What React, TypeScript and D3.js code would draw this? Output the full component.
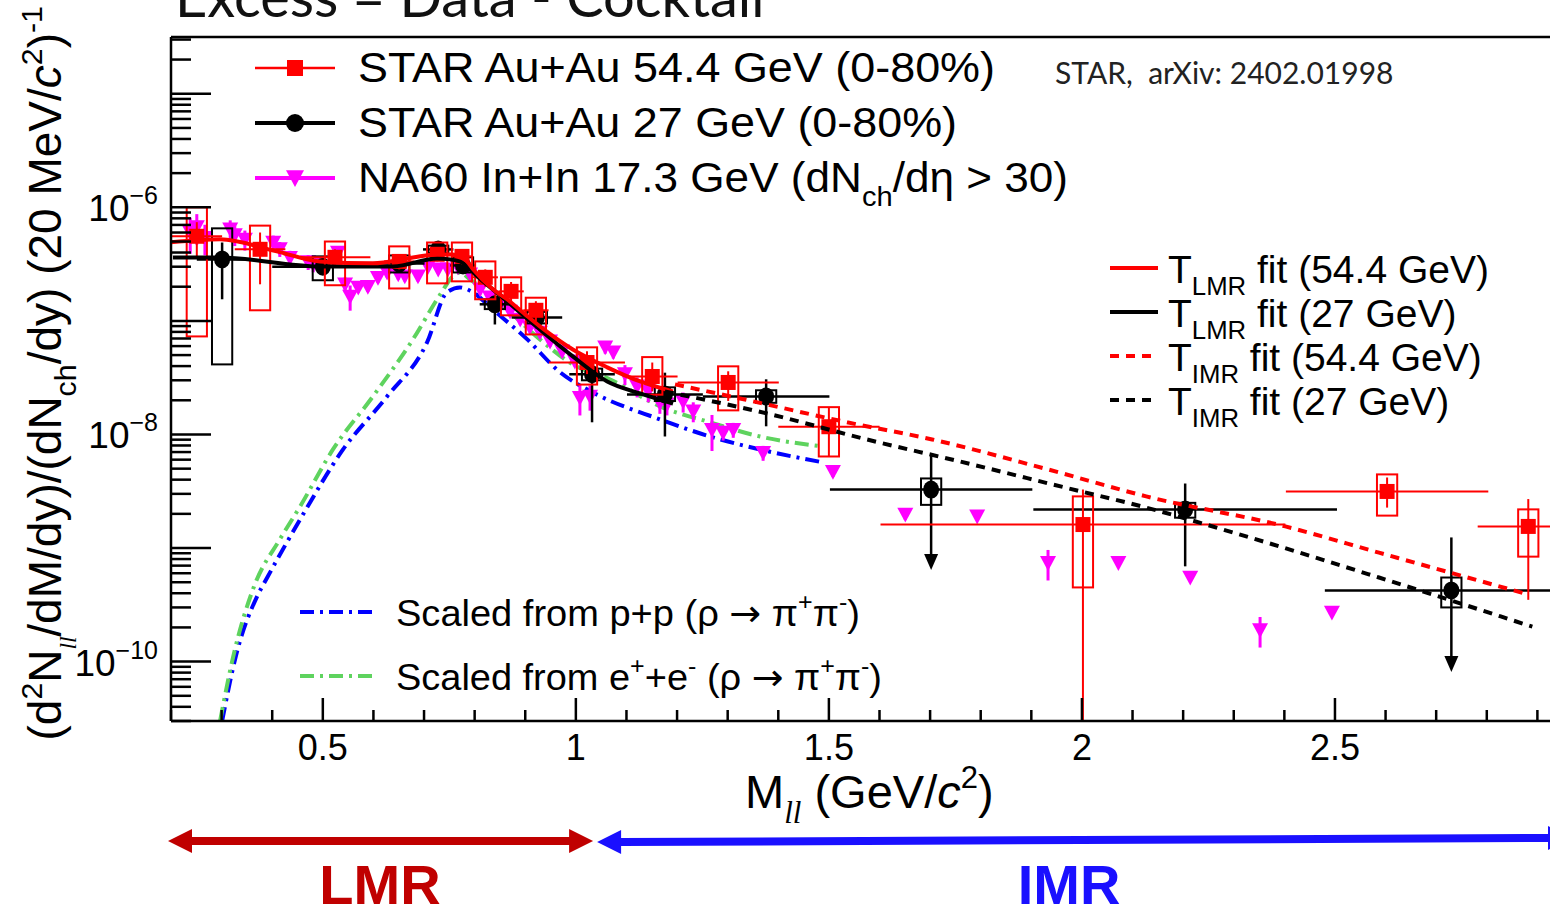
import React from 'react';
import * as d3 from 'd3';

// ---- STAR Au+Au 54.4 GeV (red squares)
const star54Mass = [0.251, 0.376, 0.524, 0.651, 0.726, 0.775, 0.821, 0.872, 0.921, 1.022, 1.151, 1.301, 1.5, 2.002, 2.603, 2.882];
const star54Yield = [5.56e-7, 4.27e-7, 3.63e-7, 3.34e-7, 3.86e-7, 3.7e-7, 2.42e-7, 1.82e-7, 1.24e-7, 4.3e-8, 3.24e-8, 2.87e-8, 1.17e-8, 1.61e-9, 3.15e-9, 1.55e-9];
const star54BinHalf = [0.05, 0.05, 0.07, 0.03, 0.02, 0.02, 0.025, 0.025, 0.025, 0.075, 0.05, 0.1, 0.1, 0.4, 0.2, 0.1];
const star54StatHi = [7.4e-7, 6.0e-7, 4.27e-7, 3.86e-7, 4.27e-7, 4.27e-7, 2.84e-7, 2.2e-7, 1.49e-7, 5.4e-8, 4.3e-8, 3.6e-8, 1.74e-8, 3.27e-9, 4.18e-9, 2.7e-9];
const star54StatLo = [3.63e-7, 2.1e-7, 2.96e-7, 2.84e-7, 3.34e-7, 3.15e-7, 2.0e-7, 1.49e-7, 9.9e-8, 3.4e-8, 2.4e-8, 1.97e-8, 6.4e-9, 1e-12, 2.27e-9, 3.5e-10];
const star54SysHi = [1.0e-6, 6.9e-7, 5.0e-7, 4.53e-7, 4.9e-7, 4.9e-7, 3.34e-7, 2.42e-7, 1.6e-7, 5.85e-8, 4.8e-8, 3.98e-8, 1.74e-8, 2.85e-9, 4.45e-9, 2.19e-9];
const star54SysLo = [7.3e-8, 1.24e-7, 2.06e-7, 1.93e-7, 2.14e-7, 2.23e-7, 1.55e-7, 1.12e-7, 7.6e-8, 2.75e-8, 2.24e-8, 1.63e-8, 6.4e-9, 4.5e-10, 1.93e-9, 8.4e-10];

// ---- STAR Au+Au 27 GeV (black circles)
const star27Mass = [0.301, 0.5, 0.651, 0.728, 0.777, 0.84, 0.923, 1.032, 1.176, 1.376, 1.702, 2.204, 2.73];
const star27Yield = [3.48e-7, 3.0e-7, 3.2e-7, 4.26e-7, 3.08e-7, 1.4e-7, 1.07e-7, 3.39e-8, 2.25e-8, 2.16e-8, 3.27e-9, 2.19e-9, 4.23e-10];
const star27BinHalf = [0.05, 0.1, 0.05, 0.03, 0.025, 0.03, 0.05, 0.045, 0.075, 0.125, 0.2, 0.3, 0.25];
const star27StatHi = [4.9e-7, 3.3e-7, 3.4e-7, 4.5e-7, 3.4e-7, 1.65e-7, 1.3e-7, 4.9e-8, 3.5e-8, 3.06e-8, 6.67e-9, 3.7e-9, 1.24e-9];
const star27StatLo = [1.55e-7, 2.7e-7, 2.9e-7, 4.0e-7, 2.8e-7, 9.3e-8, 8.5e-8, 1.28e-8, 9.6e-9, 1.18e-8, 6.4e-10, 6.9e-10, 8.1e-11];
const star27SysHi = [6.53e-7, 3.7e-7, 3.77e-7, 4.6e-7, 3.63e-7, 1.55e-7, 1.2e-7, 3.8e-8, 2.6e-8, 2.45e-8, 4.1e-9, 2.5e-9, 5.5e-10];
const star27SysLo = [4.14e-8, 2.28e-7, 2.67e-7, 4.0e-7, 2.67e-7, 1.27e-7, 9.5e-8, 3.0e-8, 1.97e-8, 1.9e-8, 2.4e-9, 1.85e-9, 3.0e-10];
const star27UpperLimit = [false, false, false, false, false, false, false, false, false, false, true, false, true];

// ---- NA60 In+In 17.3 GeV (magenta triangles)
const na60Mass = [0.238, 0.251, 0.267, 0.317, 0.326, 0.346, 0.402, 0.415, 0.435, 0.471, 0.481, 0.53, 0.544, 0.554, 0.57, 0.589, 0.609, 0.627, 0.649, 0.662, 0.688, 0.708, 0.728, 0.747, 0.767, 0.791, 0.811, 0.83, 0.85, 0.87, 0.89, 0.909, 0.929, 0.949, 0.973, 0.998, 1.008, 1.028, 1.058, 1.074, 1.097, 1.121, 1.143, 1.166, 1.18, 1.212, 1.232, 1.269, 1.291, 1.311, 1.37, 1.508, 1.651, 1.793, 1.933, 2.072, 2.214, 2.352, 2.494];
const na60Yield = [6.0e-7, 6.7e-7, 5.4e-7, 6.4e-7, 5.7e-7, 5.2e-7, 4.9e-7, 4.3e-7, 3.6e-7, 3.3e-7, 3.15e-7, 4.0e-7, 2.1e-7, 1.64e-7, 1.97e-7, 2.0e-7, 2.4e-7, 2.67e-7, 2.57e-7, 2.47e-7, 2.47e-7, 3.0e-7, 2.84e-7, 2.84e-7, 2.96e-7, 2.57e-7, 1.9e-7, 1.61e-7, 1.4e-7, 1.21e-7, 1.03e-7, 8.8e-8, 7.9e-8, 6.6e-8, 5.4e-8, 4.4e-8, 2.1e-8, 2.16e-8, 5.85e-8, 5.3e-8, 3.4e-8, 2.65e-8, 2.4e-8, 1.9e-8, 1.84e-8, 1.95e-8, 1.6e-8, 1.1e-8, 1.04e-8, 1.1e-8, 6.9e-9, 4.7e-9, 1.97e-9, 1.9e-9, 7.4e-10, 7.4e-10, 5.5e-10, 1.9e-10, 2.7e-10];
const na60RelErr = [0.35, 0.3, 0.3, 0.2, 0.2, 0.2, 0.15, 0.15, 0.15, 0.15, 0.15, 0.1, 0.15, 0.25, 0.1, 0.1, 0.1, 0.1, 0.1, 0.1, 0.1, 0.08, 0.08, 0.08, 0.08, 0.08, 0.1, 0.1, 0.1, 0.1, 0.1, 0.1, 0.1, 0.1, 0.1, 0.1, 0.3, 0.25, 0.12, 0.12, 0.2, 0.2, 0.2, 0.2, 0.2, 0.2, 0.2, 0.35, 0.15, 0.15, 0.15, 0.1, 0.1, 0.05, 0.3, 0.05, 0.05, 0.3, 0.05];

// ---- fits
const fitLmr54Mass = [0.2, 0.297, 0.409, 0.494, 0.599, 0.678, 0.726, 0.757, 0.785, 0.797, 0.836, 0.864, 0.904, 0.929, 0.994, 1.062, 1.127, 1.192];
const fitLmr54Yield = [4.92e-7, 5.23e-7, 4.09e-7, 3.34e-7, 3.21e-7, 3.62e-7, 3.85e-7, 3.85e-7, 3.34e-7, 2.85e-7, 1.9e-7, 1.55e-7, 1.1e-7, 8.95e-8, 5.6e-8, 3.9e-8, 2.93e-8, 2.39e-8];
const fitLmr27Mass = [0.204, 0.297, 0.494, 0.639, 0.726, 0.751, 0.775, 0.805, 0.864, 0.929, 0.994, 1.062, 1.127, 1.192];
const fitLmr27Yield = [3.62e-7, 3.62e-7, 3.02e-7, 3.02e-7, 3.55e-7, 3.48e-7, 3.27e-7, 2.47e-7, 1.49e-7, 8.4e-8, 4.87e-8, 2.93e-8, 2.3e-8, 1.87e-8];
const fitImr54Mass = [1.196, 1.334, 1.536, 1.704, 1.933, 2.127, 2.402, 2.587, 2.882];
const fitImr54Yield = [2.76e-8, 2.03e-8, 1.28e-8, 9.04e-9, 4.92e-9, 2.85e-9, 1.55e-9, 9.1e-10, 3.9e-10];
const fitImr27Mass = [1.176, 1.378, 1.575, 1.759, 1.943, 2.127, 2.311, 2.587, 2.89];
const fitImr27Yield = [2.39e-8, 1.53e-8, 9.04e-9, 5.78e-9, 3.62e-9, 2.27e-9, 1.32e-9, 5.5e-10, 2.03e-10];

// ---- scaled rho cocktails
const rhoPpMass = [0.301, 0.328, 0.37, 0.388, 0.455, 0.54, 0.627, 0.706, 0.745, 0.771, 0.797, 0.836, 0.904, 0.969, 1.034, 1.166, 1.265, 1.364, 1.489];
const rhoPpYield = [3.0e-11, 1.11e-10, 3.74e-10, 5.28e-10, 1.78e-9, 7.38e-9, 2.16e-8, 6.47e-8, 1.78e-7, 1.97e-7, 1.78e-7, 1.26e-7, 6.87e-8, 3.52e-8, 2.34e-8, 1.36e-8, 9.6e-9, 7.38e-9, 5.67e-9];
const rhoEeMass = [0.297, 0.323, 0.364, 0.415, 0.455, 0.52, 0.599, 0.678, 0.732, 0.757, 0.771, 0.791, 0.864, 0.929, 0.994, 1.068, 1.166, 1.265, 1.364, 1.489];
const rhoEeYield = [3.0e-11, 1.11e-10, 4.58e-10, 1.19e-9, 2.32e-9, 7.38e-9, 2.16e-8, 6.87e-8, 1.71e-7, 2.47e-7, 2.67e-7, 2.32e-7, 1.26e-7, 6.87e-8, 4.14e-8, 3.05e-8, 1.77e-8, 1.28e-8, 9.6e-9, 7.83e-9];

const xTickLabels = [0.5, 1, 1.5, 2, 2.5];
const yLabelExponents = [-6, -8, -10];
const massDomain = [0.2, 3.0];
const yieldDomain = [3.0e-11, 3.16e-5];
const lmrEdge = 1.04;

const W = 1550;
const H = 915;
const F = { left: 171, top: 37, bottom: 721, right: 1588 };
const FONT = 'Liberation Sans, Arial, Helvetica, sans-serif';

const x = d3.scaleLinear().domain(massDomain).range([F.left, F.right]);
const y = d3.scaleLog().domain(yieldDomain).range([F.bottom, F.top]);

const RED = '#ff0000';
const MAG = '#ff00ff';
const BLUE = '#0000ff';
const GREEN = '#5ed35e';

type Part = { t: string; sub?: boolean; sup?: boolean; it?: boolean; serif?: boolean; ff?: string; small?: boolean };

const rich = (parts: Part[], fs: number) => {
  let cur = 0;
  return parts.map((p, i) => {
    const target = p.sub ? fs * 0.32 : p.sup ? -fs * 0.42 : 0;
    const dy = target - cur;
    cur = target;
    const size = p.small ? fs * 0.5 : p.sub || p.sup ? fs * 0.66 : fs;
    return (
      <tspan key={i} dy={dy} fontSize={size}
        fontStyle={p.it ? 'italic' : 'normal'}
        fontFamily={p.ff ? p.ff : p.serif ? 'Liberation Serif, serif' : undefined}>{p.t}</tspan>
    );
  });
};

const lineGen = d3.line<[number, number]>().x(d => x(d[0])).y(d => y(d[1])).curve(d3.curveMonotoneX);
const zipPts = (m: number[], v: number[]) => m.map((mm, i) => [mm, v[i]] as [number, number]);

const triPath = (cx: number, cy: number, s = 8) => `M${cx - s},${cy - s * 0.85}L${cx + s},${cy - s * 0.85}L${cx},${cy + s}Z`;

const dblArrow = (x1: number, x2: number, y1: number, y2: number, t = 8, hl = 24, hh = 12) => {
  const yl = y1, yr = y2;
  return `M${x1},${yl} L${x1 + hl},${yl - hh} L${x1 + hl},${yl - t / 2} L${x2 - hl},${yr - t / 2} L${x2 - hl},${yr - hh} L${x2},${yr} L${x2 - hl},${yr + hh} L${x2 - hl},${yr + t / 2} L${x1 + hl},${yl + t / 2} L${x1 + hl},${yl + hh} Z`;
};

const yTicks: { v: number; major: boolean }[] = [];
for (let e = -11; e <= -5; e++) {
  for (let m = 1; m <= 9; m++) {
    const v = m * Math.pow(10, e);
    if (v >= yieldDomain[0] && v <= yieldDomain[1]) yTicks.push({ v, major: m === 1 });
  }
}
const xTicks = d3.range(2, 31).map(k => k / 10);

const BOX_HALF = 0.02;

const StarSeries = ({ mass, val, half, statHi, statLo, sysHi, sysLo, color, marker, lw, upper }: any) => (
  <g>
    {mass.map((m: number, i: number) => {
      const cx = x(m), cy = y(val[i]);
      const isUp = upper && upper[i];
      return (
        <g key={i}>
          <rect x={x(m - BOX_HALF)} y={y(sysHi[i])} width={x(m + BOX_HALF) - x(m - BOX_HALF)}
            height={y(sysLo[i]) - y(sysHi[i])} fill="none" stroke={color} strokeWidth={2} />
          <line x1={x(m - half[i])} x2={x(m + half[i])} y1={cy} y2={cy} stroke={color} strokeWidth={lw} />
          <line x1={cx} x2={cx} y1={y(statHi[i])} y2={isUp ? y(statLo[i]) - 14 : y(statLo[i])} stroke={color} strokeWidth={lw} />
          {isUp && <path d={`M${cx - 7},${y(statLo[i]) - 16}L${cx + 7},${y(statLo[i]) - 16}L${cx},${y(statLo[i])}Z`} fill={color} />}
          {marker === 'square'
            ? <rect x={cx - 7.5} y={cy - 7.5} width={15} height={15} fill={color} />
            : <ellipse cx={cx} cy={cy} rx={8} ry={9} fill={color} />}
        </g>
      );
    })}
  </g>
);

export default function App() {
  const fs = 46;
  const arrowFont = 'DejaVu Sans, sans-serif';
  return (
    <svg width={W} height={H} style={{ position: 'absolute', left: 0, top: 0, background: '#fff' }}
      fontFamily={FONT}>
      <defs>
        <clipPath id="plotClip">
          <rect x={F.left} y={F.top} width={W - F.left} height={F.bottom - F.top} />
        </clipPath>
      </defs>

      {/* title (cut at top, as in the source figure) */}
      <text x={175} y={17} fontSize={56} fontFamily="Lato, 'Open Sans', sans-serif" fill="#111">Excess = Data - Cocktail</text>

      <g clipPath="url(#plotClip)">
        {/* cocktail curves */}
        <path d={lineGen(zipPts(rhoPpMass, rhoPpYield)) || ''} fill="none" stroke={BLUE} strokeWidth={4} strokeDasharray="14 6 3 6" />
        <path d={lineGen(zipPts(rhoEeMass, rhoEeYield)) || ''} fill="none" stroke={GREEN} strokeWidth={4} strokeDasharray="14 6 3 6" />

        {/* NA60 */}
        {na60Mass.map((m, i) => {
          const cx = x(m), cy = y(na60Yield[i]);
          const e = na60RelErr[i];
          return (
            <g key={i}>
              <line x1={cx} x2={cx} y1={y(na60Yield[i] * (1 + e))} y2={y(na60Yield[i] * (1 - e))} stroke={MAG} strokeWidth={3} />
              <path d={triPath(cx, cy)} fill={MAG} />
            </g>
          );
        })}

        <StarSeries mass={star27Mass} val={star27Yield} half={star27BinHalf} statHi={star27StatHi} statLo={star27StatLo}
          sysHi={star27SysHi} sysLo={star27SysLo} color="#000" marker="circle" lw={2.5} upper={star27UpperLimit} />
        <StarSeries mass={star54Mass} val={star54Yield} half={star54BinHalf} statHi={star54StatHi} statLo={star54StatLo}
          sysHi={star54SysHi} sysLo={star54SysLo} color={RED} marker="square" lw={2} />

        {/* fits */}
        <path d={lineGen(zipPts(fitLmr27Mass, fitLmr27Yield)) || ''} fill="none" stroke="#000" strokeWidth={4} />
        <path d={lineGen(zipPts(fitLmr54Mass, fitLmr54Yield)) || ''} fill="none" stroke={RED} strokeWidth={4} />
        <path d={lineGen(zipPts(fitImr27Mass, fitImr27Yield)) || ''} fill="none" stroke="#000" strokeWidth={4} strokeDasharray="9 7" />
        <path d={lineGen(zipPts(fitImr54Mass, fitImr54Yield)) || ''} fill="none" stroke={RED} strokeWidth={4} strokeDasharray="9 7" />
      </g>

      {/* frame */}
      <g stroke="#000" strokeWidth={2.5} fill="none">
        <line x1={F.left} x2={W} y1={F.top} y2={F.top} />
        <line x1={F.left} x2={W} y1={F.bottom} y2={F.bottom} />
        <line x1={F.left} x2={F.left} y1={F.top} y2={F.bottom} />
        {yTicks.map((t, i) => (
          <line key={i} x1={F.left} x2={F.left + (t.major ? 40 : 20)} y1={y(t.v)} y2={y(t.v)} />
        ))}
        {xTicks.map((t, i) => {
          const major = Math.abs(t * 2 - Math.round(t * 2)) < 1e-6;
          return <line key={i} x1={x(t)} x2={x(t)} y1={F.bottom} y2={F.bottom - (major ? 23 : 11)} />;
        })}
      </g>

      {/* tick labels */}
      {xTickLabels.map(t => (
        <text key={t} x={x(t)} y={760} fontSize={36} textAnchor="middle">{String(t)}</text>
      ))}
      {yLabelExponents.map(e => (
        <text key={e} x={158} y={y(Math.pow(10, e)) + 14} fontSize={37} textAnchor="end">
          10<tspan dy={-17} fontSize={25}>{`\u2212${-e}`}</tspan>
        </text>
      ))}

      {/* axis titles */}
      <text x={745} y={808} fontSize={47}>
        {rich([{ t: 'M' }, { t: 'll', sub: true, it: true, serif: true }, { t: ' (GeV/' }, { t: 'c', it: true }, { t: '2', sup: true }, { t: ')' }], 47)}
      </text>
      <text transform="translate(61,6) rotate(-90)" textAnchor="end" fontSize={fs}>
        {rich([
          { t: '(d' }, { t: '2', sup: true }, { t: 'N' }, { t: 'll', sub: true, it: true, serif: true, small: true },
          { t: '/dM/dy)/(dN' }, { t: 'ch', sub: true }, { t: '/dy) (20 MeV/' }, { t: 'c', it: true },
          { t: '2', sup: true }, { t: ')' }, { t: '-1', sup: true },
        ], fs)}
      </text>

      {/* top-left legend */}
      <g>
        <line x1={255} x2={335} y1={68} y2={68} stroke={RED} strokeWidth={2.5} />
        <rect x={287} y={60} width={16} height={16} fill={RED} />
        <line x1={255} x2={335} y1={123} y2={123} stroke="#000" strokeWidth={4} />
        <circle cx={295} cy={123} r={9} fill="#000" />
        <line x1={255} x2={335} y1={178} y2={178} stroke={MAG} strokeWidth={4} />
        <path d={triPath(295, 178, 9)} fill={MAG} />
        <text x={358} y={82} fontSize={43} textLength={637} lengthAdjust="spacingAndGlyphs">STAR Au+Au 54.4 GeV (0-80%)</text>
        <text x={358} y={137} fontSize={43} textLength={599} lengthAdjust="spacingAndGlyphs">STAR Au+Au 27 GeV (0-80%)</text>
        <text x={358} y={192} fontSize={43} textLength={710} lengthAdjust="spacingAndGlyphs">
          {rich([{ t: 'NA60 In+In 17.3 GeV (dN' }, { t: 'ch', sub: true }, { t: '/d\u03b7 > 30)' }], 43)}
        </text>
      </g>

      <text x={1055} y={84} fontSize={30} fill="#222" fontFamily="Lato, 'Open Sans', sans-serif">{'STAR,\u00a0\u00a0arXiv: 2402.01998'}</text>

      {/* fit legend */}
      <g>
        {[
          { c: RED, dash: undefined, sub: 'LMR', label: ' fit (54.4 GeV)' },
          { c: '#000', dash: undefined, sub: 'LMR', label: ' fit (27 GeV)' },
          { c: RED, dash: '9 7', sub: 'IMR', label: ' fit (54.4 GeV)' },
          { c: '#000', dash: '9 7', sub: 'IMR', label: ' fit (27 GeV)' },
        ].map((r, i) => (
          <g key={i}>
            <line x1={1110} x2={1158} y1={268 + i * 44} y2={268 + i * 44} stroke={r.c} strokeWidth={4} strokeDasharray={r.dash} />
            <text x={1168} y={283 + i * 44} fontSize={39}>
              {rich([{ t: 'T' }, { t: r.sub, sub: true }, { t: r.label }], 39)}
            </text>
          </g>
        ))}
      </g>

      {/* cocktail legend */}
      <g>
        <line x1={300} x2={378} y1={612} y2={612} stroke={BLUE} strokeWidth={4} strokeDasharray="14 6 3 6" />
        <text x={396} y={626} fontSize={37} textLength={464} lengthAdjust="spacingAndGlyphs">
          {rich([{ t: 'Scaled from p+p (\u03c1 ' }, { t: '\u2192', ff: arrowFont }, { t: ' \u03c0' }, { t: '+', sup: true }, { t: '\u03c0' }, { t: '-', sup: true }, { t: ')' }], 37)}
        </text>
        <line x1={300} x2={378} y1={676} y2={676} stroke={GREEN} strokeWidth={4} strokeDasharray="14 6 3 6" />
        <text x={396} y={690} fontSize={37} textLength={486} lengthAdjust="spacingAndGlyphs">
          {rich([{ t: 'Scaled from e' }, { t: '+', sup: true }, { t: '+e' }, { t: '-', sup: true }, { t: ' (\u03c1 ' }, { t: '\u2192', ff: arrowFont }, { t: ' \u03c0' }, { t: '+', sup: true }, { t: '\u03c0' }, { t: '-', sup: true }, { t: ')' }], 37)}
        </text>
      </g>

      {/* LMR / IMR arrows */}
      <path d={dblArrow(x(massDomain[0]) - 3, x(lmrEdge) - 3, 841, 841)} fill="#c00000" />
      <path d={dblArrow(x(lmrEdge) + 1, W + 22, 842, 838)} fill="#1a10ff" />
      <text x={380} y={904} fontSize={56} fontWeight="bold" textAnchor="middle" fill="#c00000">LMR</text>
      <text x={1069} y={904} fontSize={56} fontWeight="bold" textAnchor="middle" fill="#1a10ff">IMR</text>
    </svg>
  );
}
